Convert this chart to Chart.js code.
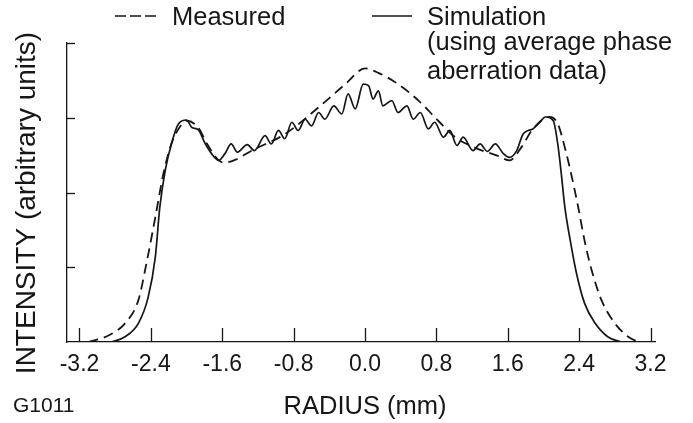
<!DOCTYPE html>
<html>
<head>
<meta charset="utf-8">
<script src="https://cdn.jsdelivr.net/npm/chart.js@4"></script>
<style>
body { margin: 0; background: #fff; }
</style>
</head>
<body>
<canvas id="miGrafico" width="693" height="423"></canvas>
<script>
// measured profile (dashed)
const measX = [-3.10, -2.87, -2.69, -2.54, -2.45, -2.35, -2.26, -2.17, -2.05, -2.00, -1.87, -1.77, -1.64, -1.57, -1.45, -1.27, -0.90, -0.52, -0.22, 0.00, 0.15, 0.37, 0.60, 0.82, 1.01, 1.23, 1.49, 1.62, 1.75, 1.87, 2.02, 2.07, 2.16, 2.24, 2.31, 2.39, 2.46, 2.54, 2.65, 2.80, 2.95, 3.06];
const measY = [0, 0.09, 0.25, 0.56, 1.05, 1.67, 2.25, 2.65, 2.92, 2.96, 2.87, 2.65, 2.43, 2.40, 2.44, 2.56, 2.78, 3.14, 3.45, 3.66, 3.60, 3.45, 3.23, 2.96, 2.74, 2.60, 2.49, 2.43, 2.60, 2.83, 3.00, 3.01, 2.92, 2.60, 2.25, 1.80, 1.36, 0.96, 0.56, 0.25, 0.07, 0];

// simulation (solid)
const simX = [-2.84, -2.69, -2.54, -2.43, -2.35, -2.30, -2.24, -2.17, -2.09, -2.00, -1.94, -1.87, -1.79, -1.72, -1.64, -1.57, -1.50, -1.43, -1.32, -1.24, -1.12, -1.05, -0.97, -0.90, -0.82, -0.75, -0.67, -0.60, -0.52, -0.45, -0.35, -0.26, -0.19, -0.11, -0.02, 0.04, 0.09, 0.15, 0.20, 0.30, 0.37, 0.47, 0.54, 0.62, 0.71, 0.78, 0.88, 0.95, 1.03, 1.10, 1.21, 1.29, 1.37, 1.46, 1.55, 1.62, 1.70, 1.77, 1.83, 1.88, 1.96, 2.02, 2.11, 2.16, 2.20, 2.24, 2.30, 2.37, 2.46, 2.58, 2.72, 2.87];
const simY = [0, 0.07, 0.25, 0.60, 1.14, 1.80, 2.29, 2.65, 2.92, 2.97, 2.87, 2.84, 2.65, 2.52, 2.43, 2.52, 2.65, 2.54, 2.64, 2.56, 2.76, 2.65, 2.83, 2.72, 2.94, 2.83, 2.98, 2.89, 3.07, 2.98, 3.16, 3.05, 3.32, 3.12, 3.45, 3.43, 3.25, 3.36, 3.16, 3.23, 3.07, 3.16, 2.98, 3.07, 2.85, 2.94, 2.74, 2.83, 2.63, 2.74, 2.56, 2.65, 2.55, 2.65, 2.52, 2.47, 2.56, 2.78, 2.83, 2.85, 2.94, 3.01, 2.96, 2.65, 2.25, 1.80, 1.36, 0.92, 0.52, 0.25, 0.07, 0];

const xTicks = [-3.2, -2.4, -1.6, -0.8, 0.0, 0.8, 1.6, 2.4, 3.2];
const yTicks = [0, 1, 2, 3, 4];

const FONT = '"Liberation Sans", Arial, sans-serif';
const INK = '#161616';

function toPoints(xs, ys) {
    return xs.map((x, i) => ({ x: x, y: ys[i] }));
}

const extras = {
    id: 'extras',
    afterDraw(chart) {
        const ctx = chart.ctx;
        const xs = chart.scales.x, ys = chart.scales.y;
        const area = chart.chartArea;
        ctx.save();
        ctx.strokeStyle = INK;
        ctx.lineWidth = 1.3;
        // inward tick marks
        for (let t of xs.ticks) {
            const px = Math.round(xs.getPixelForValue(t.value)) + 0.5;
            ctx.beginPath();
            ctx.moveTo(px, area.bottom);
            ctx.lineTo(px, area.bottom - 14);
            ctx.stroke();
        }
        for (let t of ys.ticks) {
            if (t.value === 0) continue;
            const py = Math.round(ys.getPixelForValue(t.value)) + 0.5;
            ctx.beginPath();
            ctx.moveTo(area.left, py);
            ctx.lineTo(area.left + 8, py);
            ctx.stroke();
        }

        // legend
        ctx.lineWidth = 1.6;
        ctx.setLineDash([11, 4]);
        ctx.beginPath();
        ctx.moveTo(115, 16);
        ctx.lineTo(158, 16);
        ctx.stroke();
        ctx.setLineDash([]);
        ctx.beginPath();
        ctx.moveTo(372, 16);
        ctx.lineTo(412, 16);
        ctx.stroke();

        ctx.fillStyle = INK;
        ctx.textBaseline = 'alphabetic';
        ctx.textAlign = 'left';
        ctx.font = '25.5px ' + FONT;
        ctx.fillText('Measured', 172, 25);
        ctx.fillText('Simulation', 427, 25);
        ctx.fillText('(using average phase', 427, 50);
        ctx.fillText('aberration data)', 427, 79);

        // axis titles
        ctx.font = '25.5px ' + FONT;
        ctx.textAlign = 'center';
        ctx.fillText('RADIUS (mm)', 365, 414);
        ctx.textAlign = 'left';
        ctx.font = '21px ' + FONT;
        ctx.fillText('G1011', 13, 412);

        ctx.save();
        ctx.translate(35, 203);
        ctx.rotate(-Math.PI / 2);
        ctx.textAlign = 'center';
        ctx.font = '28px ' + FONT;
        ctx.fillText('INTENSITY (arbitrary units)', 0, 0);
        ctx.restore();
        ctx.restore();
    }
};

const grafico = new Chart(document.getElementById('miGrafico'), {
    type: 'line',
    data: {
        datasets: [
            {
                label: 'Measured',
                data: toPoints(measX, measY),
                borderColor: INK,
                borderWidth: 1.8,
                borderDash: [10, 6],
                pointRadius: 0,
                cubicInterpolationMode: 'monotone',
                fill: false
            },
            {
                label: 'Simulation',
                data: toPoints(simX, simY),
                borderColor: INK,
                borderWidth: 1.7,
                pointRadius: 0,
                cubicInterpolationMode: 'monotone',
                fill: false
            }
        ]
    },
    options: {
        responsive: false,
        animation: false,
        devicePixelRatio: 1,
        layout: { padding: { left: 67, top: 43, right: 38, bottom: 0 } },
        plugins: { legend: { display: false }, tooltip: { enabled: false } },
        scales: {
            x: {
                type: 'linear',
                min: -3.34,
                max: 3.25,
                afterBuildTicks: (s) => { s.ticks = xTicks.map(v => ({ value: v })); },
                afterFit: (s) => { s.height = 81; },
                grid: { drawOnChartArea: false, drawTicks: false },
                border: { display: true, color: INK, width: 1.3 },
                ticks: {
                    padding: 9,
                    color: INK,
                    font: { family: FONT, size: 23 },
                    callback: (v) => v.toFixed(1)
                }
            },
            y: {
                type: 'linear',
                min: 0,
                max: 4,
                afterBuildTicks: (s) => { s.ticks = yTicks.map(v => ({ value: v })); },
                afterFit: (s) => { s.width = 0; },
                grid: { drawOnChartArea: false, drawTicks: false },
                border: { display: true, color: INK, width: 1.3 },
                ticks: { display: false }
            }
        }
    },
    plugins: [extras]
});
</script>
</body>
</html>
